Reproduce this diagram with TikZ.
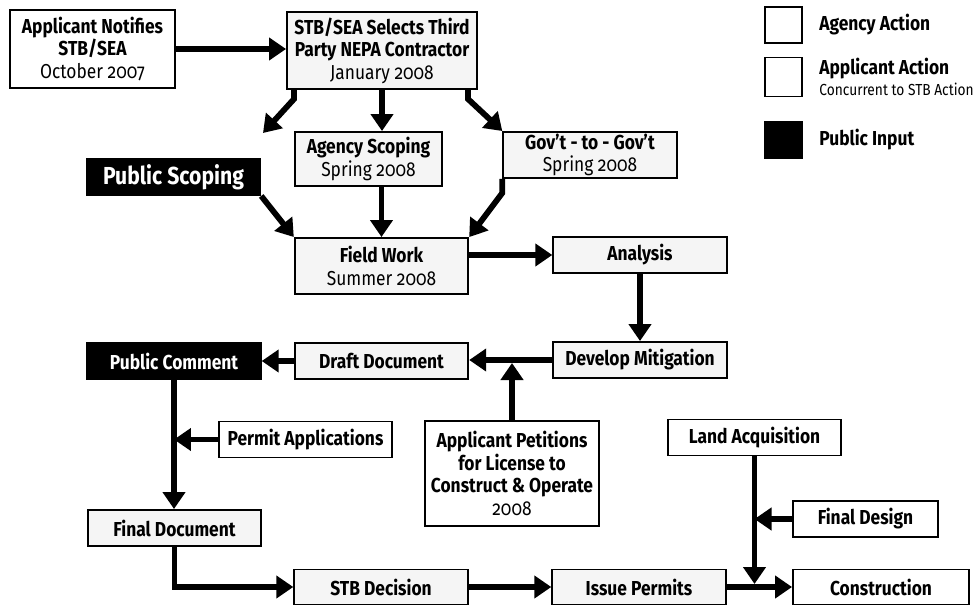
\documentclass[tikz,border=0pt]{standalone}
\usepackage{fontspec}
\usepackage{tikz}
\usetikzlibrary{arrows.meta, positioning}
\newfontfamily\flowfont{Fira Sans}[RawFeature=+onum, FakeStretch=0.86]
\tikzset{%
	every box/.style={
		draw,
		line width=1.1pt,
		inner sep=0pt,
		minimum width=3.47cm,
		minimum height=0.72cm,
		align=center,
		font=\flowfont\bfseries\fontsize{11.5}{12.8}\selectfont
	},
	agency box/.style={every box, fill=black!4},
	applicant box/.style={every box, fill=white},
	public box/.style={every box, fill=black, text=white},
	key label/.style={
		inner sep=0pt,
		align=left,
		font=\flowfont\bfseries\fontsize{11.5}{12.8}\selectfont
	},
	flow/.style={
		-{Triangle[length=0.34cm, width=0.44cm]},
		line width=3.3pt
	},
}
\begin{document}
\begin{tikzpicture}[x=0.02cm, y=-0.02cm]
			\useasboundingbox (0,0) rectangle (980,605);

			% Start of the review
			\node[applicant box, minimum width=3.3cm, minimum height=1.56cm] (notify) at (92.5,49) {Applicant Notifies\\STB/SEA\\{\mdseries October 2007}};
			\node[agency box, minimum width=3.8cm, minimum height=1.54cm] (contractor) at (382,50.5) {STB/SEA Selects Third\\Party NEPA Contractor\\{\mdseries January 2008}};

			% Scoping
			\node[agency box, minimum width=2.94cm, minimum height=1.08cm] (agencyscope) at (368.5,159) {Agency Scoping\\{\mdseries Spring 2008}};
			\node[agency box, minimum height=0.92cm] (govt) at (590,155) {Gov’t - to - Gov’t\\{\mdseries Spring 2008}};
			\node[public box, font=\flowfont\bfseries\fontsize{14}{15}\selectfont] (publicscope) at (173.5,177) {Public Scoping};

			% Studies
			\node[agency box, minimum height=1.12cm] (fieldwork) at (381.5,266) {Field Work\\{\mdseries Summer 2008}};
			\node[agency box] (analysis) at (640,255) {Analysis};
			\node[agency box] (mitigation) at (640,360) {Develop Mitigation};
			\node[agency box] (draft) at (381.5,361) {Draft Document};
			\node[public box] (comment) at (174,361) {Public Comment};
			\node[applicant box, minimum height=2.1cm] (petitions) at (512,473.5) {Applicant Petitions\\for License to\\Construct \& Operate\\{\mdseries 2008}};

			% Decision and building
			\node[applicant box] (permits) at (305.5,439.5) {Permit Applications};
			\node[agency box] (final) at (174.5,528) {Final Document};
			\node[agency box, minimum height=0.7cm] (decision) at (381,587) {STB Decision};
			\node[agency box, minimum height=0.7cm] (issue) at (639,587) {Issue Permits};
			\node[applicant box, minimum width=3.52cm, minimum height=0.7cm] (construction) at (881,587) {Construction};
			\node[applicant box] (land) at (754.5,437.5) {Land Acquisition};
			\node[applicant box, minimum width=2.9cm] (design) at (865.5,519) {Final Design};

			% Legend
			\node[applicant box, minimum width=0.74cm, minimum height=0.72cm] (keyagency) at (783.5,25) {};
			\node[applicant box, minimum width=0.74cm, minimum height=0.78cm] (keyapplicant) at (783.5,77) {};
			\node[public box, minimum width=0.74cm, minimum height=0.72cm] (keypublic) at (783.5,140) {};
			\node[key label, right=0.32cm of keyagency] (agencytext) {Agency Action};
			\node[key label, right=0.32cm of keyapplicant] (applicanttext) {Applicant Action\\[-1pt]{\mdseries\fontsize{9.1}{11}\selectfont Concurrent to STB Action}};
			\node[key label, right=0.32cm of keypublic] (publictext) {Public Input};

			% Draw the arrows
			\coordinate (scopetip) at (263,133);
			\draw[flow] (notify.east) -- (notify.east -| contractor.west);
			\draw[flow] ([xshift=0.16cm]contractor.south west) -- ++(0,9) -- (scopetip);
			\draw[flow] (contractor.south) -- (contractor.south |- agencyscope.north);
			\draw[flow] ([xshift=-0.2cm]contractor.south east) -- ++(0,9) -- (govt.north west);
			\draw[flow] (publicscope.south east) -- (fieldwork.north west);
			\draw[flow] (agencyscope.south -| fieldwork.north) -- (fieldwork.north);
			\draw[flow] (govt.south west) -- ++(0,14) -- (fieldwork.north east);
			\draw[flow] (fieldwork.east |- analysis.west) -- (analysis.west);
			\draw[flow] (analysis.south) -- (mitigation.north);
			\draw[flow] (mitigation.west) -- (mitigation.west -| draft.east);
			\draw[flow] (draft.west) -- (comment.east);
			\draw[flow, shorten >=0.06cm] (petitions.north) -- (petitions.north |- mitigation.west);
			\draw[flow] (comment.south) -- (comment.south |- final.north);
			\draw[flow] (permits.west) -- (permits.west -| comment.south);
			\draw[flow] (final.south) |- (decision.west);
			\draw[flow] (decision.east) -- (issue.west);
			\draw[flow] (issue.east) -- (construction.west);
			\draw[flow, shorten >=0.06cm] (land.south) -- (land.south |- construction.west);
			\draw[flow] (design.west) -- (design.west -| land.south);

		\end{tikzpicture}
\end{document}
